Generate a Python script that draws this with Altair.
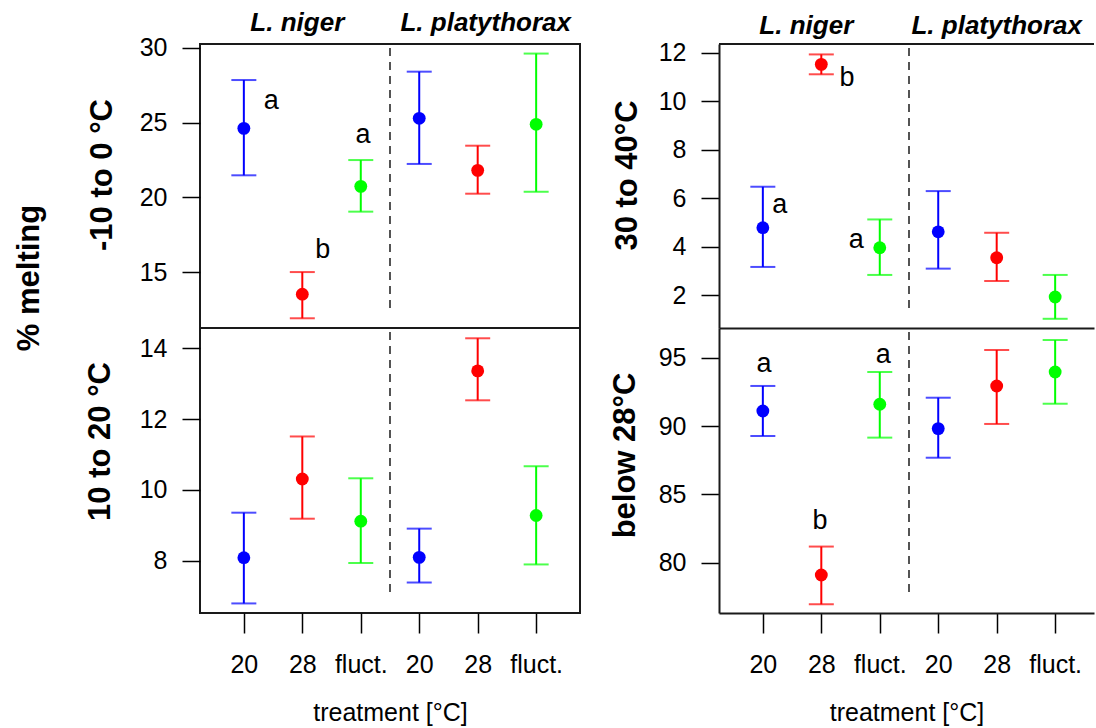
import json
import altair as alt
import pandas as pd

# ---------------- data ----------------
species = ["L. niger", "L. platythorax"]
treatments = ["20", "28", "fluct."]
tick_labels = ["20", "28", "fluct.", "20", "28", "fluct."]
colors = ["#0000FF", "#FF0000", "#00FF00"]
y_main_title = "% melting"
x_title = "treatment [°C]"

# panel A: -10 to 0 °C
a_title = "-10 to 0 °C"
a_mean = [24.61, 13.52, 20.73, 25.28, 21.80, 24.88]
a_low = [21.47, 11.91, 19.04, 22.23, 20.24, 20.37]
a_high = [27.84, 15.00, 22.49, 28.40, 23.45, 29.61]
a_letters = ["a", "b", "a"]
a_letter_x = [1.47, 2.35, 3.04]
a_letter_y = [25.90, 15.96, 23.65]
a_ticks = [15, 20, 25, 30]
a_range = [11.26, 30.25]

# panel B: 10 to 20 °C
b_title = "10 to 20 °C"
b_mean = [8.09, 10.31, 9.12, 8.10, 13.36, 9.28]
b_low = [6.80, 9.19, 7.94, 7.39, 12.53, 7.90]
b_high = [9.36, 11.51, 10.33, 8.91, 14.28, 10.67]
b_letters = []
b_letter_x = []
b_letter_y = []
b_ticks = [8, 10, 12, 14]
b_range = [6.53, 14.57]

# panel C: 30 to 40°C
c_title = "30 to 40°C"
c_mean = [4.78, 11.52, 3.95, 4.61, 3.54, 1.92]
c_low = [3.16, 11.11, 2.83, 3.09, 2.58, 1.02]
c_high = [6.47, 11.93, 5.12, 6.29, 4.57, 2.83]
c_letters = ["a", "b", "a"]
c_letter_x = [1.29, 2.44, 2.60]
c_letter_y = [5.40, 10.63, 3.95]
c_ticks = [2, 4, 6, 8, 10, 12]
c_range = [0.64, 12.36]

# panel D: below 28°C
d_title = "below 28°C"
d_mean = [91.10, 79.10, 91.59, 89.81, 92.93, 93.95]
d_low = [89.27, 76.96, 89.15, 87.68, 90.15, 91.63]
d_high = [92.93, 81.18, 93.95, 92.07, 95.56, 96.29]
d_letters = ["a", "b", "a"]
d_letter_x = [1.02, 1.98, 3.06]
d_letter_y = [93.98, 82.45, 94.63]
d_ticks = [80, 85, 90, 95]
d_range = [76.32, 97.17]

# ---------------- layout / style ----------------
FONT = "Liberation Sans"
LEFT_W, RIGHT_W = 380, 375
TOP_H, BOT_H = 284, 285
X_MIN, X_MAX_LEFT = 0.25, 6.75
UNIT = LEFT_W / (X_MAX_LEFT - X_MIN)
FRAME = "#1a1a1a"

positions = list(range(1, len(tick_labels) + 1))
label_expr = json.dumps(tick_labels) + "[datum.value - 1]"
one = pd.DataFrame({"k": [0]})


def panel(mean, low, high, letters, lx, ly, ydom, yticks, ytitle, title_x, title_y,
          width, height, column, row, headers_dx=None, header_y=None):
    xmax = X_MIN + width / UNIT
    df = pd.DataFrame({
        "pos": positions,
        "species": [s for s in species for _ in treatments],
        "treatment": treatments * len(species),
        "mean": mean, "low": low, "high": high,
    })
    xscale = alt.Scale(domain=[X_MIN, xmax], nice=False, zero=False)
    yscale = alt.Scale(domain=ydom, nice=False, zero=False)
    right_col = column == "right"
    if row == "bottom":
        xaxis = alt.Axis(values=positions, labelExpr=label_expr, tickSize=20, tickWidth=1.5,
                         tickColor="black", labelFontSize=25, labelPadding=19, labelFlush=False,
                         labelOverlap=False, grid=False, domain=right_col, domainColor=FRAME,
                         domainWidth=2, title=x_title, titleFontSize=25, titleFontWeight="normal",
                         titleY=107, titleBaseline="alphabetic")
    else:
        xaxis = alt.Axis(labels=False, ticks=False, grid=False, domain=right_col,
                         domainColor=FRAME, domainWidth=2, title=None)
    yaxis = alt.Axis(values=yticks, format="d", tickSize=18, tickWidth=1.5, tickColor="black",
                     labelFontSize=25, labelPadding=15, labelFlush=False, grid=False,
                     domain=right_col, domainColor=FRAME, domainWidth=2,
                     title=ytitle, titleFontSize=31, titleFontWeight="bold", titleAngle=270,
                     titleAlign="center", titleBaseline="alphabetic", titleX=title_x, titleY=title_y)

    def X(f):
        return alt.X(f, scale=xscale, axis=xaxis)

    def Y(f):
        return alt.Y(f, scale=yscale, axis=yaxis)

    color = alt.Color("treatment:N", scale=alt.Scale(domain=treatments, range=colors), legend=None)
    base = alt.Chart(df)
    layers = [
        base.mark_rule(strokeWidth=2).encode(x=X("pos:Q"), y=Y("low:Q"), y2="high:Q", color=color),
        base.mark_tick(orient="horizontal", size=25, thickness=2).encode(x=X("pos:Q"), y=Y("low:Q"), color=color),
        base.mark_tick(orient="horizontal", size=25, thickness=2).encode(x=X("pos:Q"), y=Y("high:Q"), color=color),
        base.mark_circle(size=165, opacity=1).encode(x=X("pos:Q"), y=Y("mean:Q"), color=color),
        alt.Chart(one).mark_rule(strokeDash=[8, 6], color="#2a2a2a", strokeWidth=1.6).encode(
            x=alt.datum(3.5), y=alt.value(4), y2=alt.value(height - 15)),
    ]
    if letters:
        ldf = pd.DataFrame({"t": letters, "lx": lx, "ly": ly})
        layers.append(alt.Chart(ldf).mark_text(fontSize=27, align="center", baseline="alphabetic",
                                               color="black", font=FONT).encode(
            x=X("lx:Q"), y=Y("ly:Q"), text="t:N"))
    if headers_dx is not None:
        for i, sp in enumerate(species):
            centre = sum(p for p, s in zip(df["pos"], df["species"]) if s == sp) / len(treatments)
            hdf = pd.DataFrame({"name": [sp], "hx": [centre]})
            layers.append(alt.Chart(hdf).mark_text(fontSize=26, fontWeight="bold", fontStyle="italic",
                                                   align="center", baseline="alphabetic", color="black",
                                                   font=FONT, dx=headers_dx[i]).encode(
                x=X("hx:Q"), y=alt.value(header_y), text="name:N"))
    if right_col and row == "top":
        layers.append(alt.Chart(one).mark_rule(color=FRAME, strokeWidth=2).encode(
            x=alt.value(0), x2=alt.value(width), y=alt.value(0)))
    if column == "left" and row == "top":
        layers.append(alt.Chart(pd.DataFrame({"t": [y_main_title]})).mark_text(
            angle=270, fontSize=31, fontWeight="bold", align="center", baseline="alphabetic",
            color="black", font=FONT).encode(x=alt.value(-161), y=alt.value(234), text="t:N"))
        # white anchor fixing the page margin
        layers.append(alt.Chart(one).mark_rule(color="white", strokeWidth=1).encode(
            x=alt.value(-198.5), y=alt.value(-42.5), y2=alt.value(-42)))
    ch = alt.layer(*layers).properties(width=width, height=height)
    if not right_col:
        ch = ch.properties(view=alt.ViewBackground(stroke=FRAME, strokeWidth=2))
    return ch


pa = panel(a_mean, a_low, a_high, a_letters, a_letter_x, a_letter_y, a_range, a_ticks, a_title,
           -89, 130.5, LEFT_W, TOP_H, "left", "top", headers_dx=[-5, 8], header_y=-13)
pb = panel(b_mean, b_low, b_high, b_letters, b_letter_x, b_letter_y, b_range, b_ticks, b_title,
           -91, 113, LEFT_W, BOT_H, "left", "bottom")
pc = panel(c_mean, c_low, c_high, c_letters, c_letter_x, c_letter_y, c_range, c_ticks, c_title,
           -83, 131, RIGHT_W, TOP_H, "right", "top", headers_dx=[-15, 0], header_y=-10)
pd_ = panel(d_mean, d_low, d_high, d_letters, d_letter_x, d_letter_y, d_range, d_ticks, d_title,
            -85, 127, RIGHT_W, BOT_H, "right", "bottom")

chart = alt.concat(pa, pc, pb, pd_, columns=2, spacing=alt.RowColnumber(row=0, column=139),
                   bounds="flush", align="each").properties(
    padding=0, background="white"
).configure_view(strokeWidth=0).configure_axis(
    labelFont=FONT, titleFont=FONT, labelColor="black", titleColor="black"
).configure_text(font=FONT)

chart.save("out.html", embed_options={"renderer": "svg", "actions": False})
